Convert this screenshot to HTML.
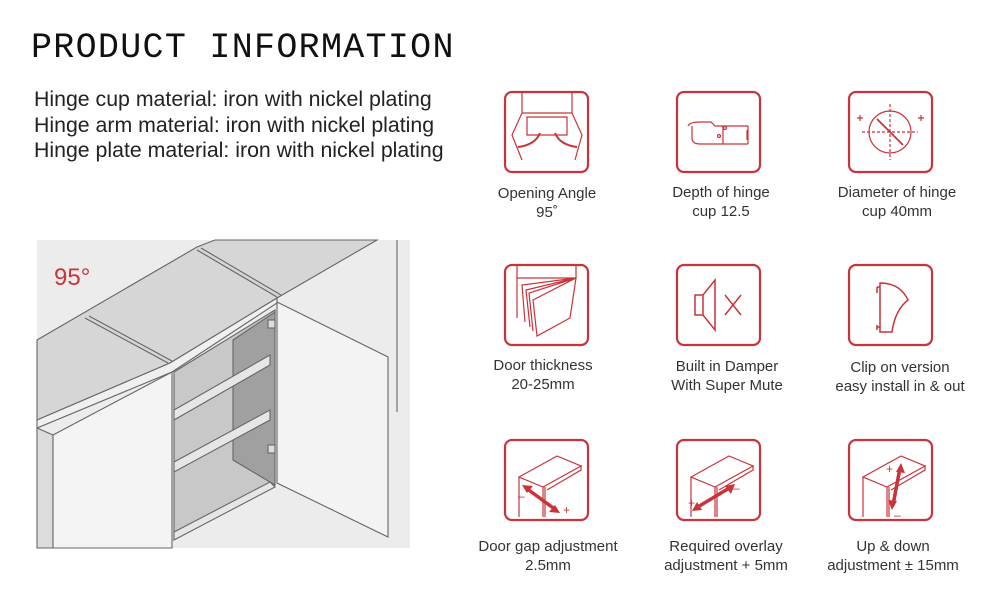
<!DOCTYPE html>
<html><head><meta charset="utf-8"><style>
body{margin:0;background:#fff;width:1000px;height:600px;overflow:hidden;position:relative;font-family:"Liberation Sans",sans-serif}
.t{position:absolute;left:31px;top:28px;font-family:"Liberation Mono",monospace;font-size:35px;letter-spacing:1.3px;color:#111}
.m{position:absolute;left:34px;font-size:21.3px;color:#222}
.c{position:absolute;width:180px;text-align:center;font-size:15px;color:#333;line-height:19px}
</style></head><body>
<div class="t">PRODUCT INFORMATION</div>
<div class="m" style="top:87px">Hinge cup material: iron with nickel plating</div>
<div class="m" style="top:113px">Hinge arm material: iron with nickel plating</div>
<div class="m" style="top:138px">Hinge plate material: iron with nickel plating</div>

<svg style="position:absolute;left:0;top:0" width="1000" height="600">
<defs>
<g id="cab"><path d="M14,37 L52,16 L76,26 L38,47 Z M14,37 V77 M38,47 V77 M40,47 V77 M38,47 L76,26 V30 L42,50"/></g>
</defs>
<!-- cabinet illustration -->
<rect x="37" y="240" width="373" height="308" fill="#ececec"/>
<g stroke="#666" stroke-width="1.1">
<polygon points="37,340 197,247 215,240 377,240 277,298 170,363 37,420" fill="#d6d6d6"/>
<polygon points="37,420 170,363 277,298 277,303 172,372 37,428" fill="#f0f0f0"/>
<path d="M85,318 L168,363 M89,316 L172,361 M197,250 L277,297 M201,248 L281,295" fill="none"/>
<polygon points="37,428 53,435 53,548 37,548" fill="#dcdcdc"/>
<polygon points="53,435 172,372 172,548 53,548" fill="#f4f4f4"/>
<polygon points="174,372 275,310 275,485 174,540" fill="#c8c8c8"/>
<polygon points="233,340 275,312 275,485 233,460" fill="#a0a0a0"/>
<polygon points="174,410 270,355 270,365 174,420" fill="#e6e6e6"/>
<polygon points="174,462 270,410 270,420 174,472" fill="#e6e6e6"/>
<polygon points="174,532 270,482 275,487 174,540" fill="#e6e6e6"/>
<polygon points="277,302 388,357 388,537 277,483" fill="#f3f3f3"/>
<line x1="397" y1="240" x2="397" y2="412" fill="none"/>
<rect x="268" y="320" width="7" height="8" fill="#ddd"/>
<rect x="268" y="445" width="7" height="8" fill="#ddd"/>
</g>
<text x="54" y="285" font-family="Liberation Sans" font-size="24" fill="#c8343a">95°</text>

<g fill="none" stroke="#c8343a" stroke-width="2.2">
<rect x="505" y="92" width="83" height="80" rx="7"/>
<rect x="677" y="92" width="83" height="80" rx="7"/>
<rect x="849" y="92" width="83" height="80" rx="7"/>
<rect x="505" y="265" width="83" height="80" rx="7"/>
<rect x="677" y="265" width="83" height="80" rx="7"/>
<rect x="849" y="265" width="83" height="80" rx="7"/>
<rect x="505" y="440" width="83" height="80" rx="7"/>
<rect x="677" y="440" width="83" height="80" rx="7"/>
<rect x="849" y="440" width="83" height="80" rx="7"/>
</g>
<g fill="none" stroke="#c8343a" stroke-width="1.2">
<path d="M522,92 V113 L512,135 L522,160 M572,92 V113 L582,135 L575,160 M522,113 H572 M527,117 H567 V135 H527 Z"/>
<path d="M540,133 Q535,145 518,147 M555,133 Q560,145 577,147" stroke-width="2"/>
<path d="M688,126 Q690,122 700,122 H711 L715,126 H748 M692,126 V139 Q693,144 700,144 H748 M723,126 V144 M748,126 V144 M747,130 V140"/>
<circle cx="725" cy="128" r="1.5"/><circle cx="719" cy="136" r="1.5"/>
<circle cx="890" cy="132" r="21"/>
<path d="M890,104 V160 M862,132 H918" stroke-dasharray="3,2"/>
<path d="M877,119 L903,145" stroke-width="1.8"/>
<path d="M857,118 h6 M860,115 v6 M918,118 h6 M921,115 v6"/>
<path d="M517,266 V318 M517,278 H576 V266 M576,278 L570,318 L537,336 L533,300 Z M576,278 L522,285 L525,322 M576,278 L526,290 L530,327 M576,278 L529,293 L533,331"/>
<path d="M695,295 H703 L715,280 V330 L703,315 H695 Z M703,295 V315 M725,295 L741,315 M741,295 L725,315" stroke-width="1.5"/>
<path d="M877,287 H880 V283 Q900,283 908,300 Q895,310 892,332 H880 V327 H877 M877,287 V293 M877,325 V330 M880,287 V327" stroke-width="1.5"/>
<use href="#cab" x="505" y="440"/>
<use href="#cab" x="677" y="440"/>
<use href="#cab" x="849" y="440"/>
</g>
<g stroke="#c8343a" stroke-width="3.5" fill="none">
<path d="M526,488 L556,510"/><path d="M696,508 L731,487"/><path d="M900,468 L893,505"/>
</g>
<g fill="#c8343a">
<polygon points="522,485 533,486 527,493"/><polygon points="560,513 549,512 555,505"/>
<polygon points="692,511 697,502 702,510"/><polygon points="735,484 731,494 725,486"/>
<polygon points="901,463 905,473 896,472"/><polygon points="892,510 888,500 897,501"/>
</g>
<g fill="#c8343a" font-family="Liberation Sans" font-size="12">
<text x="518" y="500">–</text><text x="563" y="514">+</text>
<text x="688" y="507">+</text><text x="733" y="492">–</text>
<text x="886" y="473">+</text><text x="894" y="519">–</text>
</g>
</svg>

<div class="c" style="left:457px;top:184px">Opening Angle<br>95˚</div>
<div class="c" style="left:631px;top:183px">Depth of hinge<br>cup 12.5</div>
<div class="c" style="left:807px;top:183px">Diameter of hinge<br>cup 40mm</div>
<div class="c" style="left:453px;top:356px">Door thickness<br>20-25mm</div>
<div class="c" style="left:637px;top:357px">Built in Damper<br>With Super Mute</div>
<div class="c" style="left:810px;top:358px">Clip on version<br>easy install in &amp; out</div>
<div class="c" style="left:458px;top:537px">Door gap adjustment<br>2.5mm</div>
<div class="c" style="left:636px;top:537px">Required overlay<br>adjustment + 5mm</div>
<div class="c" style="left:803px;top:537px">Up &amp; down<br>adjustment ± 15mm</div>
</body></html>
